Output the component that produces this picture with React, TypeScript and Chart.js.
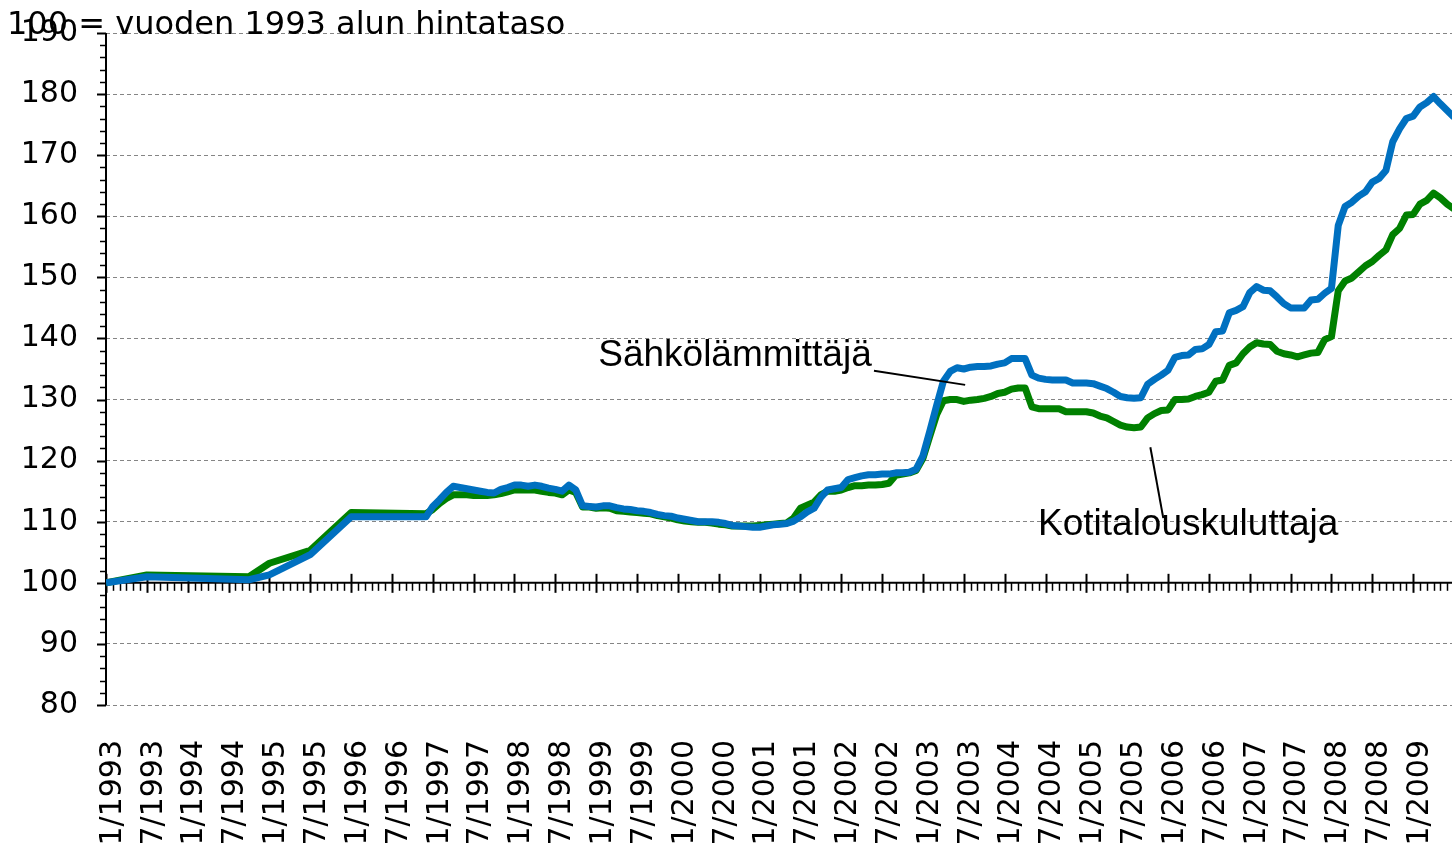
import React, { useEffect, useRef } from 'react';
import { Chart, registerables } from 'chart.js';

Chart.register(...registerables);

const CANVAS_W = 1454;
const CANVAS_H = 843;

const TITLE = '100 = vuoden 1993 alun hintataso';
const NAME_BLUE = 'Sähkölämmittäjä';
const NAME_GREEN = 'Kotitalouskuluttaja';

// month index: 0 = 1/1993
const MONTHS = [
  0, 6, 21, 24, 30, 36, 47,
  48, 49, 50, 51, 52, 53, 54, 55, 56, 57, 58, 59,
  60, 61, 62, 63, 64, 65, 66, 67, 68, 69, 70, 71,
  72, 73, 74, 75, 76, 77, 78, 79, 80, 81, 82, 83,
  84, 85, 86, 87, 88, 89, 90, 91, 92, 93, 94, 95,
  96, 97, 98, 99, 100, 101, 102, 103, 104, 105, 106, 107,
  108, 109, 110, 111, 112, 113, 114, 115, 116, 117, 118, 119,
  120, 121, 122, 123, 124, 125, 126, 127, 128, 129, 130, 131,
  132, 133, 134, 135, 136, 137, 138, 139, 140, 141, 142, 143,
  144, 145, 146, 147, 148, 149, 150, 151, 152, 153, 154, 155,
  156, 157, 158, 159, 160, 161, 162, 163, 164, 165, 166, 167,
  168, 169, 170, 171, 172, 173, 174, 175, 176, 177, 178, 179,
  180, 181, 182, 183, 184, 185, 186, 187, 188, 189, 190, 191,
  192, 193, 194, 195, 196, 197, 198,
];

const BLUE = [
  100.0, 101.0, 100.5, 101.3, 104.6, 110.8, 110.8,
  112.5, 113.6, 114.8, 115.8, 115.6, 115.4, 115.2, 115.0, 114.8, 114.7, 115.3, 115.6,
  116.0, 116.0, 115.8, 116.0, 115.8, 115.5, 115.3, 115.0, 116.0, 115.2, 112.6, 112.5,
  112.4, 112.6, 112.6, 112.3, 112.1, 112.0, 111.8, 111.7, 111.5, 111.2, 111.0, 110.9,
  110.6, 110.4, 110.2, 110.0, 110.0, 110.0, 109.9, 109.7, 109.4, 109.3, 109.2, 109.1,
  109.1, 109.3, 109.5, 109.6, 109.7, 110.1, 110.8, 111.6, 112.2, 114.0, 115.2, 115.4,
  115.6, 116.9, 117.2, 117.5, 117.7, 117.7, 117.8, 117.8, 118.0, 118.0, 118.1, 118.6,
  120.8, 124.8, 129.0, 133.0, 134.6, 135.2, 135.0, 135.3, 135.4, 135.4, 135.5, 135.8,
  136.0, 136.7, 136.7, 136.7, 134.0, 133.5, 133.3, 133.2, 133.2, 133.2, 132.7, 132.7,
  132.7, 132.6, 132.2, 131.8, 131.2, 130.5, 130.3, 130.2, 130.3, 132.5, 133.3, 134.0,
  134.8, 136.9, 137.2, 137.3, 138.2, 138.3, 139.0, 141.1, 141.2, 144.2, 144.6, 145.2,
  147.5, 148.5, 147.9, 147.8, 146.8, 145.7, 145.0, 145.0, 145.0, 146.3, 146.4, 147.4,
  148.2, 158.5, 161.6, 162.3, 163.3, 164.0, 165.6, 166.2, 167.5, 172.2, 174.3, 176.0,
  176.4, 177.9, 178.6, 179.6, 178.4, 177.3, 176.2,
];

const GREEN = [
  100.0, 101.3, 101.0, 103.2, 105.3, 111.5, 111.3,
  112.0, 113.0, 113.8, 114.4, 114.4, 114.4, 114.3, 114.3, 114.3, 114.4, 114.6, 114.9,
  115.2, 115.2, 115.2, 115.2, 115.0, 114.8, 114.7, 114.4, 115.2, 114.8, 112.4, 112.4,
  112.2, 112.3, 112.2, 111.8, 111.7, 111.6, 111.5, 111.4, 111.3, 111.0, 110.8, 110.6,
  110.3, 110.1, 110.0, 109.9, 109.9, 109.8, 109.6, 109.5, 109.3, 109.3, 109.3, 109.3,
  109.4, 109.5, 109.6, 109.7, 109.8, 110.6, 112.2, 112.7, 113.2, 114.4, 115.0, 115.0,
  115.2, 115.6, 115.9, 115.9, 116.0, 116.0, 116.1, 116.3, 117.6, 117.8, 118.0, 118.4,
  120.4, 124.0, 127.5, 129.8, 130.0, 130.0, 129.7, 129.9, 130.0, 130.2, 130.5, 131.0,
  131.2, 131.7, 131.9, 131.9, 128.8, 128.5, 128.5, 128.5, 128.5, 128.0, 128.0, 128.0,
  128.0, 127.8, 127.3, 127.0, 126.4, 125.8, 125.5, 125.4, 125.5, 127.0, 127.7, 128.2,
  128.3, 130.0, 130.0, 130.1, 130.5, 130.8, 131.2, 133.0, 133.2, 135.6, 136.0, 137.5,
  138.6, 139.3, 139.1, 139.0, 137.9, 137.5, 137.3, 137.0, 137.3, 137.6, 137.7, 139.8,
  140.3, 147.8, 149.4, 149.9, 150.9, 151.9, 152.6, 153.6, 154.5, 157.0, 158.0, 160.2,
  160.3, 162.0, 162.6, 163.8, 163.0, 162.0, 161.2,
];

const X_TICK_LABELS = [
  '1/1993', '7/1993', '1/1994', '7/1994', '1/1995', '7/1995', '1/1996', '7/1996',
  '1/1997', '7/1997', '1/1998', '7/1998', '1/1999', '7/1999', '1/2000', '7/2000',
  '1/2001', '7/2001', '1/2002', '7/2002', '1/2003', '7/2003', '1/2004', '7/2004',
  '1/2005', '7/2005', '1/2006', '7/2006', '1/2007', '7/2007', '1/2008', '7/2008',
  '1/2009',
];
const X_TICK_MONTHS = [
  0, 6, 12, 18, 24, 30, 36, 42, 48, 54, 60, 66, 72, 78, 84, 90,
  96, 102, 108, 114, 120, 126, 132, 138, 144, 150, 156, 162, 168, 174, 180, 186,
  192,
];
const X_MIN = 0;
const X_MAX = 198;
const Y_MIN = 80;
const Y_MAX = 190;
const Y_STEP = 10;
const Y_MINOR_STEP = 2;
const AXIS_CROSS = 100;

// annotation anchors in data units [month, value]
const ANN_BLUE_TEXT = [72.3, 135.5];
const ANN_BLUE_LINE = [[112.8, 134.7], [126.2, 132.4]];
const ANN_GREEN_TEXT = [136.9, 107.8];
const ANN_GREEN_LINE = [[153.4, 122.2], [155.3, 110.6]];

const TICK_FONT = { family: '"DejaVu Sans", Verdana, sans-serif', size: 30 };

const decorPlugin = {
  id: 'decor',
  beforeDatasetsDraw(chart: any) {
    const { ctx, chartArea, scales } = chart;
    const x = scales.x;
    const y = scales.y;
    const yc = y.getPixelForValue(AXIS_CROSS);
    ctx.save();
    ctx.strokeStyle = '#000';
    ctx.setLineDash([]);
    ctx.lineWidth = 2;
    ctx.beginPath();
    ctx.moveTo(chartArea.left, chartArea.top);
    ctx.lineTo(chartArea.left, chartArea.bottom);
    ctx.stroke();
    for (let v = Y_MIN; v <= Y_MAX + 0.001; v += Y_MINOR_STEP) {
      const py = Math.round(y.getPixelForValue(v)) + 0.5;
      const major = Math.abs(v % Y_STEP) < 0.001;
      ctx.lineWidth = major ? 2 : 1.5;
      ctx.beginPath();
      ctx.moveTo(chartArea.left - (major ? 9 : 6), py);
      ctx.lineTo(chartArea.left, py);
      ctx.stroke();
    }
    ctx.lineWidth = 2;
    ctx.beginPath();
    ctx.moveTo(chartArea.left, yc);
    ctx.lineTo(chartArea.right, yc);
    ctx.stroke();
    for (let m = X_MIN; m <= X_MAX; m++) {
      const px = Math.round(x.getPixelForValue(m)) + 0.5;
      const major = m % 6 === 0;
      ctx.lineWidth = major ? 2 : 1.5;
      ctx.beginPath();
      if (major) {
        ctx.moveTo(px, yc - 9);
        ctx.lineTo(px, yc + 10);
      } else {
        ctx.moveTo(px, yc);
        ctx.lineTo(px, yc + 8);
      }
      ctx.stroke();
    }
    ctx.restore();
  },
  afterDraw(chart: any) {
    const { ctx, scales } = chart;
    const x = scales.x;
    const y = scales.y;
    const P = (p: number[]) => [x.getPixelForValue(p[0]), y.getPixelForValue(p[1])];
    ctx.save();
    ctx.fillStyle = '#000';
    ctx.strokeStyle = '#000';
    ctx.textBaseline = 'alphabetic';
    ctx.textAlign = 'left';
    ctx.font = '32px "DejaVu Sans", Verdana, sans-serif';
    ctx.fillText(TITLE, 7, 34);
    ctx.font = '37px "Liberation Sans", Arial, sans-serif';
    const tb = P(ANN_BLUE_TEXT);
    ctx.fillText(NAME_BLUE, tb[0], tb[1]);
    const tg = P(ANN_GREEN_TEXT);
    ctx.fillText(NAME_GREEN, tg[0], tg[1]);
    ctx.lineWidth = 2;
    for (const seg of [ANN_BLUE_LINE, ANN_GREEN_LINE]) {
      const a = P(seg[0]);
      const b = P(seg[1]);
      ctx.beginPath();
      ctx.moveTo(a[0], a[1]);
      ctx.lineTo(b[0], b[1]);
      ctx.stroke();
    }
    ctx.restore();
  },
};

export default function App() {
  const ref = useRef<HTMLCanvasElement | null>(null);
  useEffect(() => {
    if (!ref.current) return;
    const toPts = (vals: number[]) => MONTHS.map((m, i) => ({ x: m, y: vals[i] }));
    const chart = new Chart(ref.current, {
      type: 'line',
      data: {
        datasets: [
          {
            label: NAME_BLUE,
            data: toPts(BLUE),
            borderColor: '#0070C0',
            backgroundColor: '#0070C0',
            borderWidth: 7,
            pointRadius: 0,
            tension: 0,
            borderJoinStyle: 'round',
            order: 0,
          },
          {
            label: NAME_GREEN,
            data: toPts(GREEN),
            borderColor: '#008000',
            backgroundColor: '#008000',
            borderWidth: 7,
            pointRadius: 0,
            tension: 0,
            borderJoinStyle: 'round',
            order: 1,
          },
        ],
      },
      options: {
        responsive: false,
        animation: false,
        devicePixelRatio: 1,
        layout: { padding: { top: 33, left: 0, right: 0, bottom: 0 } },
        plugins: { legend: { display: false }, tooltip: { enabled: false }, title: { display: false } },
        scales: {
          x: {
            type: 'linear',
            min: X_MIN,
            max: X_MAX,
            grid: { display: false, drawTicks: false },
            border: { display: false },
            afterBuildTicks: (s: any) => {
              s.ticks = X_TICK_MONTHS.map((v) => ({ value: v }));
            },
            afterFit: (s: any) => {
              s.height = CANVAS_H - 705;
              s.paddingLeft = 0;
              s.paddingRight = 0;
            },
            ticks: {
              autoSkip: false,
              minRotation: 90,
              maxRotation: 90,
              padding: 35,
              labelOffset: 7,
              color: '#000',
              font: TICK_FONT,
              callback: (_v: any, i: number) => X_TICK_LABELS[i] ?? '',
            },
          },
          y: {
            type: 'linear',
            min: Y_MIN,
            max: Y_MAX,
            grid: {
              color: (c: any) => (c.tick && c.tick.value === AXIS_CROSS ? 'rgba(0,0,0,0)' : '#858585'),
              lineWidth: 1,
              drawTicks: false,
            },
            border: { display: false, dash: [4, 3] },
            afterFit: (s: any) => {
              s.width = 106;
              s.paddingTop = 0;
              s.paddingBottom = 0;
            },
            ticks: {
              stepSize: Y_STEP,
              padding: 28,
              color: '#000',
              font: TICK_FONT,
            },
          },
        },
      },
      plugins: [decorPlugin],
    } as any);
    return () => chart.destroy();
  }, []);
  return (
    <div style={{ position: 'fixed', left: 0, top: 0, width: 1452, height: CANVAS_H, overflow: 'hidden', background: '#fff' }}>
      <canvas ref={ref} width={CANVAS_W} height={CANVAS_H} style={{ display: 'block' }} />
    </div>
  );
}
